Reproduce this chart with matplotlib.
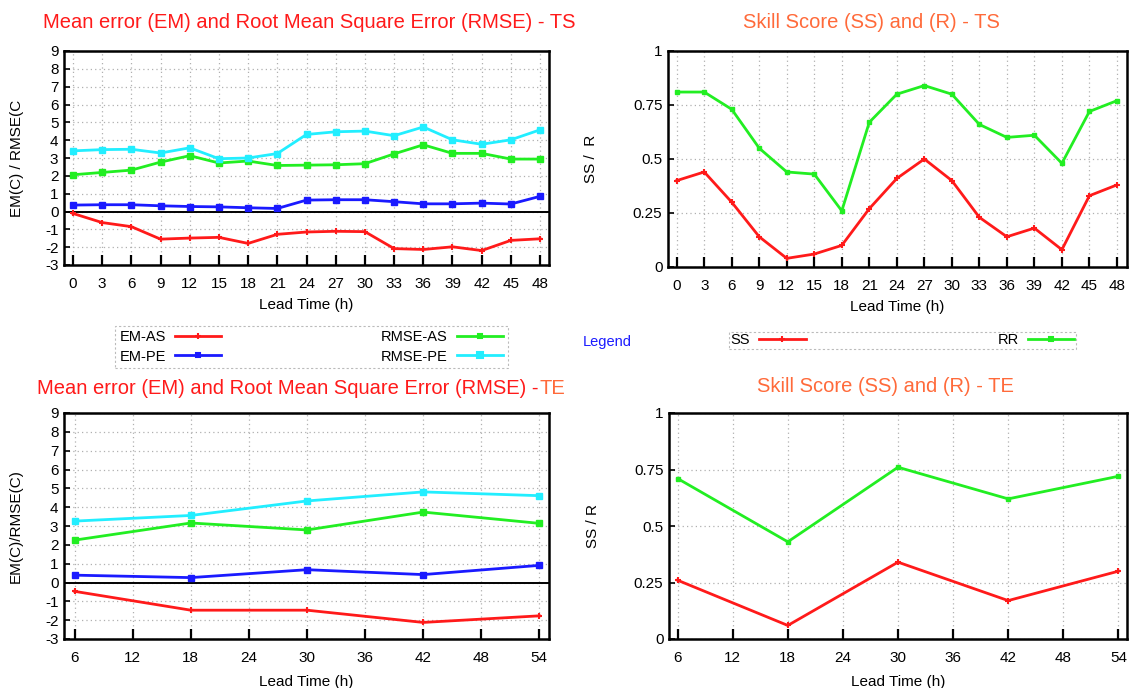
import numpy as np
import matplotlib.pyplot as plt
from matplotlib.lines import Line2D

plt.rcParams['font.family'] = ['Liberation Sans', 'DejaVu Sans']
plt.rcParams['axes.unicode_minus'] = False

# lead times
lead_ts = [0, 3, 6, 9, 12, 15, 18, 21, 24, 27, 30, 33, 36, 39, 42, 45, 48]
lead_te = [6, 18, 30, 42, 54]

# TS errors
em_as_ts = [-0.11, -0.62, -0.85, -1.55, -1.49, -1.45, -1.79, -1.28, -1.15, -1.11,
            -1.13, -2.08, -2.13, -1.98, -2.19, -1.62, -1.53]
em_pe_ts = [0.36, 0.38, 0.38, 0.32, 0.28, 0.26, 0.21, 0.17, 0.64, 0.66,
            0.66, 0.55, 0.43, 0.43, 0.47, 0.42, 0.85]
rmse_as_ts = [2.06, 2.19, 2.32, 2.77, 3.13, 2.72, 2.83, 2.58, 2.60, 2.62,
              2.68, 3.23, 3.74, 3.26, 3.26, 2.94, 2.94]
rmse_pe_ts = [3.40, 3.47, 3.49, 3.28, 3.57, 2.96, 3.00, 3.25, 4.32, 4.47,
              4.51, 4.25, 4.74, 4.02, 3.77, 4.02, 4.58]

# TS skill
ss_ts = [0.40, 0.44, 0.30, 0.14, 0.04, 0.06, 0.10, 0.27, 0.41, 0.50,
         0.40, 0.23, 0.14, 0.18, 0.08, 0.33, 0.38]
rr_ts = [0.81, 0.81, 0.73, 0.55, 0.44, 0.43, 0.26, 0.67, 0.80, 0.84,
         0.80, 0.66, 0.60, 0.61, 0.48, 0.72, 0.77]

# TE errors
em_as_te = [-0.47, -1.47, -1.47, -2.12, -1.77]
em_pe_te = [0.39, 0.26, 0.68, 0.42, 0.91]
rmse_as_te = [2.25, 3.16, 2.79, 3.74, 3.14]
rmse_pe_te = [3.26, 3.56, 4.33, 4.81, 4.61]

# TE skill
ss_te = [0.26, 0.06, 0.34, 0.17, 0.30]
rr_te = [0.71, 0.43, 0.76, 0.62, 0.72]

RED = '#ff1a1a'
BLUE = '#1a1aff'
GREEN = '#22ee22'
CYAN = '#22eeff'
ORANGE = '#ff6a3a'

W, H = 1129, 688


def box(l, r, t, b):
    return [l / W, 1 - b / H, (r - l) / W, (b - t) / H]


fig = plt.figure(figsize=(W / 100, H / 100), dpi=100)

ax_tl = fig.add_axes(box(64, 549, 51, 265))
ax_tr = fig.add_axes(box(668, 1127, 51, 267))
ax_bl = fig.add_axes(box(64, 549, 413, 639))
ax_br = fig.add_axes(box(669, 1127, 413, 639))


def style(ax, xt, yt):
    ax.set_xticks(xt)
    ax.set_yticks(yt)
    ax.grid(True, color='#b0b0b0', linestyle=(0, (1, 2.5)), linewidth=0.9)
    for s in ax.spines.values():
        s.set_linewidth(1.8)
    ax.tick_params(axis='x', direction='in', length=7, width=1.6, top=False,
                   labelsize=11, pad=9)
    ax.tick_params(axis='y', direction='in', length=4, width=1.2, right=False,
                   labelsize=11, pad=4)
    ax.set_axisbelow(True)


def err_lines(ax, x, ea, ep, ra, rp):
    ax.axhline(0, color='black', linewidth=1.4, zorder=2)
    ax.plot(x, ea, color=RED, lw=2, marker='+', ms=4, mew=1.5, zorder=3)
    ax.plot(x, ep, color=BLUE, lw=2, marker='s', ms=4, zorder=3)
    ax.plot(x, ra, color=GREEN, lw=2, marker='s', ms=4, zorder=3)
    ax.plot(x, rp, color=CYAN, lw=2, marker='s', ms=5, zorder=3)


def skill_lines(ax, x, ss, rr):
    ax.plot(x, rr, color=GREEN, lw=2, marker='s', ms=3.5, zorder=3)
    ax.plot(x, ss, color=RED, lw=2, marker='+', ms=4, mew=1.5, zorder=3)


# top left
err_lines(ax_tl, lead_ts, em_as_ts, em_pe_ts, rmse_as_ts, rmse_pe_ts)
style(ax_tl, lead_ts, range(-3, 10))
ax_tl.set_xlim(-0.92, 48.92)
ax_tl.set_ylim(-3, 9)
ax_tl.set_ylabel('EM(C) / RMSE(C', fontsize=11)
ax_tl.yaxis.set_label_coords(-0.082, 0.5)
ax_tl.set_xlabel('Lead Time (h)', fontsize=11)
ax_tl.xaxis.set_label_coords(0.5, -0.155)
fig.text(309 / W, 1 - 22 / H, 'Mean error (EM) and Root Mean Square Error (RMSE) - TS',
         color=RED, fontsize=14.5, ha='center', va='center')

# top right
skill_lines(ax_tr, lead_ts, ss_ts, rr_ts)
style(ax_tr, lead_ts, [0, 0.25, 0.5, 0.75, 1])
ax_tr.set_yticklabels(['0', '0.25', '0.5', '0.75', '1'])
ax_tr.set_xlim(-0.95, 49.1)
ax_tr.set_ylim(0, 1)
ax_tr.set_ylabel('SS /  R', fontsize=11)
ax_tr.yaxis.set_label_coords(-0.152, 0.5)
ax_tr.set_xlabel('Lead Time (h)', fontsize=11)
ax_tr.xaxis.set_label_coords(0.5, -0.153)
fig.text(871 / W, 1 - 22 / H, 'Skill Score (SS) and (R) - TS',
         color=ORANGE, fontsize=14.5, ha='center', va='center')

# bottom left
err_lines(ax_bl, lead_te, em_as_te, em_pe_te, rmse_as_te, rmse_pe_te)
style(ax_bl, range(6, 55, 6), range(-3, 10))
ax_bl.set_xlim(4.9, 55.0)
ax_bl.set_ylim(-3, 9)
ax_bl.set_ylabel('EM(C)/RMSE(C)', fontsize=11)
ax_bl.yaxis.set_label_coords(-0.085, 0.5)
ax_bl.set_xlabel('Lead Time (h)', fontsize=11)
ax_bl.xaxis.set_label_coords(0.5, -0.158)
t1 = fig.text(37 / W, 1 - 389 / H, 'Mean error (EM) and Root Mean Square Error (RMSE) -',
              color=RED, fontsize=14.5, ha='left', va='center')
fig.canvas.draw()
bb = t1.get_window_extent()
fig.text(bb.x1 / W + 1 / W, 1 - 389 / H, 'TE', color=ORANGE, fontsize=14.5,
         ha='left', va='center')

# bottom right
skill_lines(ax_br, lead_te, ss_te, rr_te)
style(ax_br, range(6, 55, 6), [0, 0.25, 0.5, 0.75, 1])
ax_br.set_yticklabels(['0', '0.25', '0.5', '0.75', '1'])
ax_br.set_xlim(5.06, 54.94)
ax_br.set_ylim(0, 1)
ax_br.set_ylabel('SS / R', fontsize=11)
ax_br.yaxis.set_label_coords(-0.15, 0.5)
ax_br.set_xlabel('Lead Time (h)', fontsize=11)
ax_br.xaxis.set_label_coords(0.5, -0.158)
fig.text(885 / W, 1 - 387 / H, 'Skill Score (SS) and (R) - TE',
         color=ORANGE, fontsize=14.5, ha='center', va='center')

# legends
def h(c, m, ms):
    return Line2D([], [], color=c, lw=2, marker=m, ms=ms, mew=1.5)

leg1 = fig.legend([h(RED, '+', 4), h(BLUE, 's', 3), h(GREEN, 's', 3), h(CYAN, 's', 4)],
                  ['EM-AS', 'EM-PE', 'RMSE-AS', 'RMSE-PE'],
                  ncol=2, mode='expand', markerfirst=False, fontsize=10.5,
                  bbox_to_anchor=(108 / W, 1 - 367 / H, 407 / W, 40 / H),
                  loc='center', handlelength=3.2, labelspacing=0.35,
                  borderpad=0.3, fancybox=False, handletextpad=0.6)
leg1.get_frame().set_edgecolor('#aaaaaa')
leg1.get_frame().set_linestyle((0, (2, 2)))
leg1.get_frame().set_linewidth(0.8)

leg2 = fig.legend([h(RED, '+', 4), h(GREEN, 's', 3)], ['SS', 'RR'],
                  ncol=2, mode='expand', markerfirst=False, fontsize=10.5,
                  bbox_to_anchor=(722 / W, 1 - 351 / H, 361 / W, 21 / H),
                  loc='center', handlelength=3.2, borderpad=0.1,
                  fancybox=False, handletextpad=0.6)
leg2.get_frame().set_edgecolor('#aaaaaa')
leg2.get_frame().set_linestyle((0, (2, 2)))
leg2.get_frame().set_linewidth(0.8)

fig.text(607 / W, 1 - 342 / H, 'Legend', color=BLUE, fontsize=10.5,
         ha='center', va='center')

fig.savefig('out.png', dpi=100)
